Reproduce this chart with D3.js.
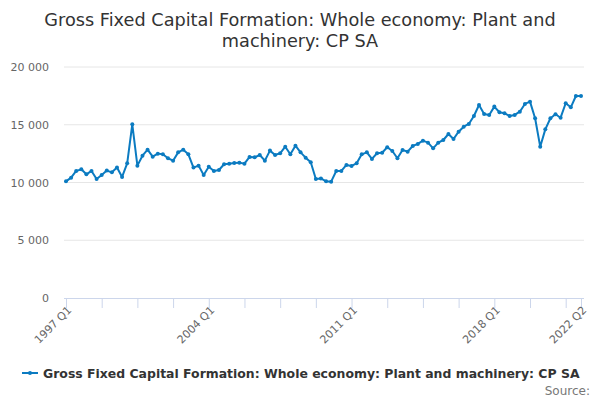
<!DOCTYPE html>
<html>
<head>
<meta charset="utf-8">
<script src="https://cdn.jsdelivr.net/npm/d3@7"></script>
<style>
  body { margin: 0; background: #fff; }
  svg { font-family: "DejaVu Sans", Verdana, sans-serif; }
</style>
</head>
<body>
<svg id="chart" width="600" height="400"></svg>
<script>
// quarterly values, 1997 Q1 .. 2022 Q2 (£ million)
const startYear = 1997;
const values = [
  10100, 10420, 11000, 11140, 10710, 11000, 10300, 10650, 11030, 10880,
  11290, 10480, 11660, 15040, 11460, 12320, 12840, 12240, 12500, 12440,
  12100, 11890, 12610, 12840, 12440, 11290, 11460, 10650, 11370, 11000,
  11080, 11580, 11630, 11690, 11720, 11630, 12210, 12180, 12380, 11890,
  12760, 12380, 12530, 13100, 12440, 13190, 12610, 12150, 11750, 10300,
  10350, 10100, 10070, 11000, 11000, 11520, 11430, 11660, 12440, 12610,
  12040, 12530, 12580, 13050, 12730, 12100, 12810, 12670, 13160, 13340,
  13620, 13450, 12960, 13450, 13680, 14200, 13770, 14400, 14830, 15070,
  15760, 16710, 15930, 15850, 16570, 16080, 15990, 15760, 15850, 16130,
  16800, 17000, 15560, 13100, 14600, 15560, 15910, 15610, 16860, 16510,
  17490, 17490
];
const quarters = values.map((v, i) => `${startYear + Math.floor(i / 4)} Q${i % 4 + 1}`);
const yTicks = [0, 5000, 10000, 15000, 20000];
const seriesName = "Gross Fixed Capital Formation: Whole economy: Plant and machinery: CP SA";
const titleLines = ["Gross Fixed Capital Formation: Whole economy: Plant and", "machinery: CP SA"];

const colour = "#0b7bc1";
const plot = { left: 64, right: 584, top: 67, bottom: 298 };

const svg = d3.select("#chart");

// title
svg.append("text")
  .attr("x", 300)
  .attr("y", 26)
  .attr("text-anchor", "middle")
  .style("font-size", "17.7px")
  .style("fill", "#333")
  .selectAll("tspan")
  .data(titleLines)
  .enter()
  .append("tspan")
  .attr("x", 300)
  .attr("dy", (d, i) => i === 0 ? 0 : 21)
  .text(d => d);

const x = d3.scalePoint()
  .domain(quarters)
  .range([66, 581]);

const y = d3.scaleLinear()
  .domain([0, 20000])
  .range([plot.bottom, plot.top]);

// gridlines
svg.append("g")
  .selectAll("line")
  .data(yTicks.filter(d => d > 0))
  .enter()
  .append("line")
  .attr("x1", plot.left)
  .attr("x2", plot.right)
  .attr("y1", d => y(d))
  .attr("y2", d => y(d))
  .attr("stroke", "#e6e6e6")
  .attr("stroke-width", 1);

// y labels
const fmt = d => d3.format(",")(d).replace(/,/g, " ");
svg.append("g")
  .selectAll("text")
  .data(yTicks)
  .enter()
  .append("text")
  .attr("x", 49)
  .attr("y", d => y(d) + 4)
  .attr("text-anchor", "end")
  .style("font-size", "11px")
  .style("fill", "#666")
  .text(fmt);

// x axis: ticks every 7 quarters plus the last one, labels every 28
const tickIdx = d3.range(0, values.length, 7).concat([values.length - 1]);
const labelIdx = [0, 28, 56, 84, values.length - 1];

const xAxis = d3.axisBottom(x)
  .tickValues(tickIdx.map(i => quarters[i]))
  .tickSize(10)
  .tickFormat(d => labelIdx.includes(quarters.indexOf(d)) ? d : "");

const gx = svg.append("g")
  .attr("transform", `translate(0,${plot.bottom})`)
  .call(xAxis);

gx.select(".domain")
  .attr("d", `M${plot.left},0.5H${plot.right}`)
  .attr("stroke", "#ccd6eb");
gx.selectAll(".tick line").attr("stroke", "#ccd6eb");
gx.selectAll(".tick text")
  .attr("text-anchor", "end")
  .attr("transform", "translate(3,10) rotate(-45)")
  .attr("dy", 0)
  .attr("y", 4)
  .attr("x", 0)
  .style("font-size", "11px")
  .style("font-family", "DejaVu Sans, sans-serif")
  .style("fill", "#666");

// line + markers
const line = d3.line()
  .x((d, i) => x(quarters[i]))
  .y(d => y(d));

svg.append("path")
  .datum(values)
  .attr("d", line)
  .attr("fill", "none")
  .attr("stroke", colour)
  .attr("stroke-width", 2)
  .attr("stroke-linejoin", "round");

svg.append("g")
  .selectAll("circle")
  .data(values)
  .enter()
  .append("circle")
  .attr("cx", (d, i) => x(quarters[i]))
  .attr("cy", d => y(d))
  .attr("r", 2)
  .attr("fill", colour);

// legend
const lg = svg.append("g").attr("transform", "translate(22,373)");
lg.append("line")
  .attr("x1", 0).attr("x2", 16)
  .attr("y1", 0).attr("y2", 0)
  .attr("stroke", colour)
  .attr("stroke-width", 2);
lg.append("circle")
  .attr("cx", 8).attr("cy", 0).attr("r", 2)
  .attr("fill", colour);
lg.append("text")
  .attr("x", 21)
  .attr("y", 4.5)
  .style("font-size", "12.45px")
  .style("font-weight", "bold")
  .style("fill", "#333")
  .text(seriesName);

// credits
svg.append("text")
  .attr("x", 590)
  .attr("y", 395)
  .attr("text-anchor", "end")
  .style("font-size", "12px")
  .style("fill", "#777")
  .text("Source:");
</script>
</body>
</html>
